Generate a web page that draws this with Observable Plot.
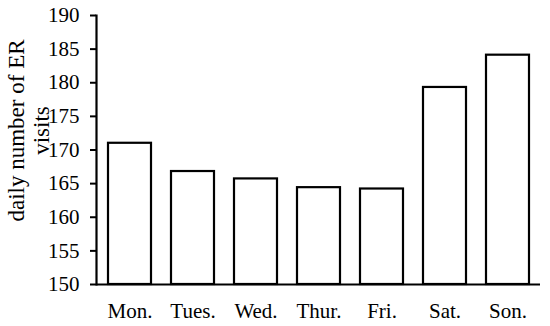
<!DOCTYPE html>
<html>
<head>
<meta charset="utf-8">
<script src="https://cdn.jsdelivr.net/npm/d3@7"></script>
<script src="https://cdn.jsdelivr.net/npm/@observablehq/plot@0.6"></script>
<style>
  html, body { margin: 0; padding: 0; background: white; }
  #chart svg { display: block; }
</style>
</head>
<body>
<div id="chart"></div>
<script>
const days = ["Mon.", "Tues.", "Wed.", "Thur.", "Fri.", "Sat.", "Son."];
const visits = [171.0, 166.8, 165.7, 164.4, 164.2, 179.3, 184.1];
const yTicks = [150, 155, 160, 165, 170, 175, 180, 185, 190];
const yTitle = ["daily number of ER\nvisits"];

const data = days.map((d, i) => ({day: d, visits: visits[i]}));
const base = yTicks[0];

const chart = Plot.plot({
  width: 550,
  height: 326,
  marginLeft: 96,
  marginRight: 10,
  marginTop: 15,
  marginBottom: 42,
  style: {
    fontFamily: "'Liberation Serif', 'Times New Roman', serif",
    fontSize: "21px",
    color: "black",
    background: "white"
  },
  x: {domain: days, paddingInner: 0.32, paddingOuter: 0.17, label: null},
  y: {domain: [yTicks[0], yTicks[yTicks.length - 1]], label: null},
  marks: [
    Plot.barY(data, {x: "day", y1: base, y2: "visits", fill: "white", stroke: "black", strokeWidth: 2.2}),
    Plot.ruleY([base], {stroke: "black", strokeWidth: 2.2}),
    Plot.frame({anchor: "left", stroke: "black", strokeWidth: 2.2}),
    Plot.axisY({ticks: yTicks, tickSize: 6, tickPadding: 11, strokeWidth: 2, label: null, tickFormat: d => String(d)}),
    Plot.axisX({tickSize: 0, tickPadding: 19, label: null}),
    Plot.text(yTitle, {text: d => d, frameAnchor: "left", textAnchor: "middle", lineAnchor: "middle", rotate: -90, dx: -68, dy: -19.5, lineHeight: 1.09, fill: "black", fontSize: 23})
  ]
});
document.getElementById("chart").appendChild(chart);
</script>
</body>
</html>
